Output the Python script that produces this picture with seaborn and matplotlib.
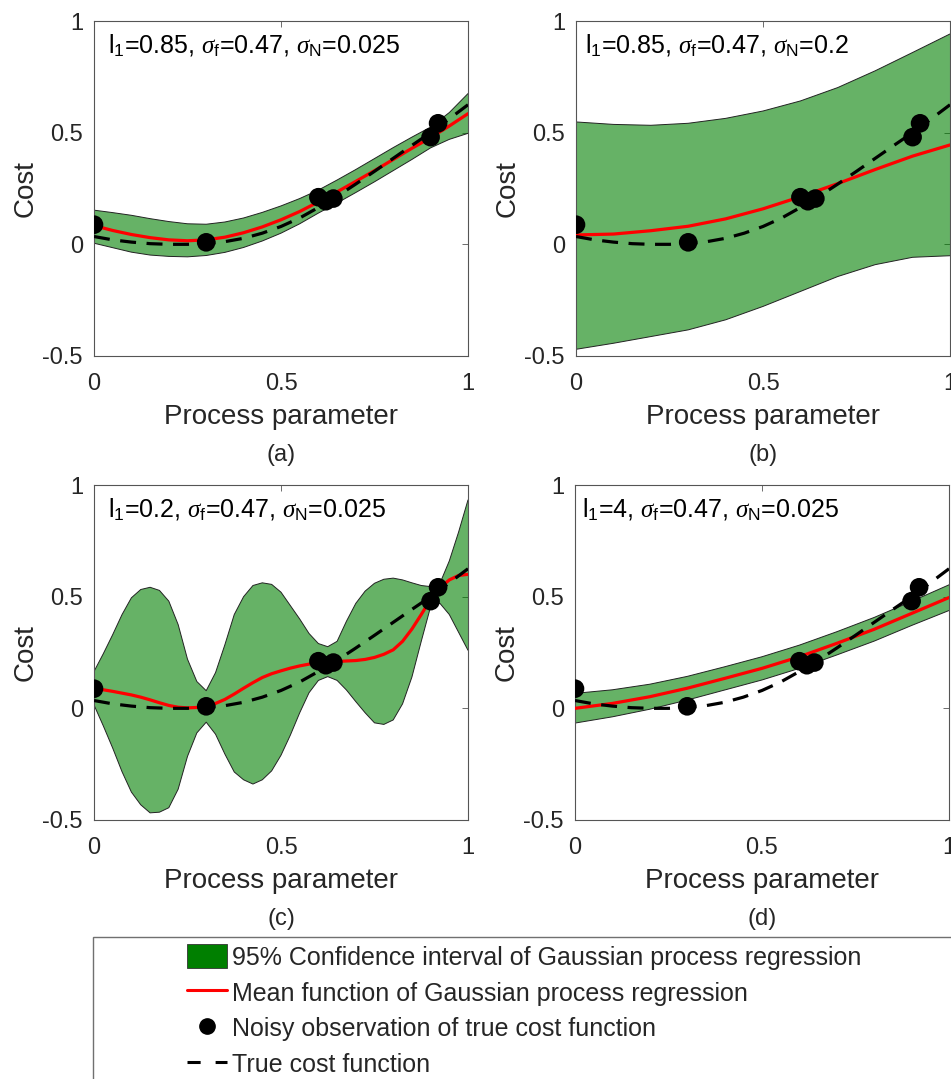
import matplotlib
matplotlib.use("Agg")
import matplotlib.pyplot as plt
import seaborn as sns
from matplotlib.patches import Patch, Rectangle
from matplotlib.lines import Line2D

# noisy observations, same in every panel
obs_x = [0.0, 0.30, 0.60, 0.62, 0.64, 0.90, 0.92]
obs_y = [0.088, 0.009, 0.211, 0.193, 0.205, 0.480, 0.542]

x21 = [0.0, 0.05, 0.1, 0.15, 0.2, 0.25, 0.3, 0.35, 0.4, 0.45, 0.5,
       0.55, 0.6, 0.65, 0.7, 0.75, 0.8, 0.85, 0.9, 0.95, 1.0]
x11 = [0.0, 0.1, 0.2, 0.3, 0.4, 0.5, 0.6, 0.7, 0.8, 0.9, 1.0]
x41 = [0.0, 0.025, 0.05, 0.075, 0.1, 0.125, 0.15, 0.175, 0.2, 0.225, 0.25,
       0.275, 0.3, 0.325, 0.35, 0.375, 0.4, 0.425, 0.45, 0.475, 0.5,
       0.525, 0.55, 0.575, 0.6, 0.625, 0.65, 0.675, 0.7, 0.725, 0.75,
       0.775, 0.8, 0.825, 0.85, 0.875, 0.9, 0.925, 0.95, 0.975, 1.0]

# true cost function (dashed)
true_y = [0.035, 0.020, 0.010, 0.003, 0.000, 0.000, 0.004, 0.012, 0.027, 0.050, 0.080,
          0.118, 0.165, 0.215, 0.270, 0.327, 0.385, 0.443, 0.500, 0.562, 0.625]

# (a) l1=0.85, sf=0.47, sN=0.025
a_mean = [0.084, 0.062, 0.044, 0.030, 0.020, 0.016, 0.020, 0.032, 0.052, 0.078, 0.110,
          0.147, 0.190, 0.235, 0.282, 0.330, 0.380, 0.430, 0.478, 0.530, 0.585]
a_upper = [0.153, 0.142, 0.130, 0.115, 0.102, 0.092, 0.090, 0.100, 0.118, 0.143, 0.172,
           0.205, 0.243, 0.288, 0.335, 0.384, 0.433, 0.480, 0.525, 0.590, 0.675]
a_lower = [0.005, -0.015, -0.035, -0.048, -0.054, -0.056, -0.050, -0.036, -0.014, 0.015, 0.050,
           0.092, 0.140, 0.185, 0.232, 0.280, 0.330, 0.380, 0.432, 0.470, 0.497]

# (b) l1=0.85, sf=0.47, sN=0.2
b_mean = [0.042, 0.046, 0.061, 0.081, 0.114, 0.159, 0.213, 0.272, 0.335, 0.395, 0.445]
b_upper = [0.548, 0.537, 0.533, 0.542, 0.564, 0.597, 0.642, 0.702, 0.777, 0.859, 0.942]
b_lower = [-0.470, -0.443, -0.413, -0.383, -0.338, -0.278, -0.211, -0.144, -0.091, -0.058, -0.051]

# (c) l1=0.2, sf=0.47, sN=0.025
c_mean = [0.090, 0.083, 0.076, 0.068, 0.060, 0.050, 0.038, 0.025, 0.013, 0.005, 0.002,
          0.004, 0.010, 0.022, 0.040, 0.064, 0.090, 0.115, 0.138, 0.155, 0.168,
          0.180, 0.190, 0.198, 0.205, 0.208, 0.210, 0.212, 0.214, 0.219, 0.228,
          0.242, 0.262, 0.300, 0.355, 0.420, 0.488, 0.540, 0.575, 0.595, 0.600]
c_upper = [0.165, 0.245, 0.330, 0.420, 0.495, 0.532, 0.542, 0.528, 0.480, 0.375, 0.220,
           0.120, 0.079, 0.160, 0.285, 0.420, 0.500, 0.550, 0.562, 0.555, 0.520,
           0.460, 0.400, 0.335, 0.290, 0.276, 0.300, 0.390, 0.470, 0.525, 0.560,
           0.578, 0.583, 0.575, 0.562, 0.550, 0.545, 0.560, 0.660, 0.790, 0.933]
c_lower = [0.015, -0.079, -0.178, -0.284, -0.375, -0.432, -0.468, -0.465, -0.445, -0.362, -0.215,
           -0.110, -0.062, -0.116, -0.205, -0.285, -0.320, -0.339, -0.320, -0.280, -0.210,
           -0.120, -0.020, 0.070, 0.125, 0.142, 0.125, 0.082, 0.030, -0.020, -0.065,
           -0.072, -0.052, 0.020, 0.140, 0.300, 0.455, 0.470, 0.420, 0.340, 0.260]

# (d) l1=4, sf=0.47, sN=0.025
d_mean = [0.000, 0.022, 0.052, 0.090, 0.134, 0.179, 0.231, 0.291, 0.354, 0.425, 0.496]
d_upper = [0.067, 0.083, 0.108, 0.143, 0.186, 0.231, 0.283, 0.343, 0.407, 0.479, 0.553]
d_lower = [-0.066, -0.038, -0.004, 0.037, 0.082, 0.127, 0.179, 0.239, 0.301, 0.371, 0.438]

titles = [r"l$_1$=0.85, $\sigma_\mathrm{f}$=0.47, $\sigma_\mathrm{N}$=0.025",
          r"l$_1$=0.85, $\sigma_\mathrm{f}$=0.47, $\sigma_\mathrm{N}$=0.2",
          r"l$_1$=0.2, $\sigma_\mathrm{f}$=0.47, $\sigma_\mathrm{N}$=0.025",
          r"l$_1$=4, $\sigma_\mathrm{f}$=0.47, $\sigma_\mathrm{N}$=0.025"]
letters = ["(a)", "(b)", "(c)", "(d)"]

sns.set_theme(style="white")
plt.rcParams["font.family"] = ["Liberation Sans", "DejaVu Sans"]
plt.rcParams["mathtext.fontset"] = "custom"
plt.rcParams["mathtext.rm"] = "Liberation Sans"
plt.rcParams["mathtext.it"] = "Liberation Serif:italic"
plt.rcParams["mathtext.bf"] = "Liberation Sans:bold"

W, H = 951, 1079
fig = plt.figure(figsize=(W / 100, H / 100), dpi=100)

boxes = [(94, 21), (576, 21), (94, 485), (575, 485)]
aw, ah = 374, 335
panels = [
    (x21, a_mean, x21, a_upper, a_lower),
    (x11, b_mean, x11, b_upper, b_lower),
    (x41, c_mean, x41, c_upper, c_lower),
    (x11, d_mean, x11, d_upper, d_lower),
]
text_x = [0.037, 0.024, 0.037, 0.02]
txt_col = "#262626"
green = "#008000"

for i, (bx, by) in enumerate(boxes):
    ax = fig.add_axes([bx / W, 1 - (by + ah) / H, aw / W, ah / H])
    mx, my, bandx, up, lo = panels[i]
    ax.fill_between(bandx, lo, up, facecolor=green, alpha=0.6, edgecolor="none", zorder=1)
    sns.lineplot(x=bandx, y=up, ax=ax, color="#222222", linewidth=0.7, zorder=2)
    sns.lineplot(x=bandx, y=lo, ax=ax, color="#222222", linewidth=0.7, zorder=2)
    sns.lineplot(x=mx, y=my, ax=ax, color="red", linewidth=2.3, zorder=3)
    sns.lineplot(x=x21, y=true_y, ax=ax, color="black", linewidth=2.3,
                 linestyle=(0, (5, 3.3)), zorder=4)
    sns.scatterplot(x=obs_x, y=obs_y, ax=ax, color="black", s=180,
                    edgecolor="none", zorder=5)
    ax.set_xlim(0, 1)
    ax.set_ylim(-0.5, 1)
    ax.set_xticks([0, 0.5, 1])
    ax.set_xticklabels(["0", "0.5", "1"])
    ax.set_yticks([-0.5, 0, 0.5, 1])
    ax.set_yticklabels(["-0.5", "0", "0.5", "1"])
    ax.tick_params(direction="in", top=True, right=True, length=4, width=0.6,
                   labelsize=17, colors="#555555", labelcolor=txt_col)
    ax.tick_params(axis="x", pad=12)
    ax.tick_params(axis="y", pad=8)
    for sp in ax.spines.values():
        sp.set_color("#555555")
        sp.set_linewidth(0.8)
    ax.set_xlabel("Process parameter", fontsize=20, color=txt_col, labelpad=7)
    ax.set_ylabel("Cost", fontsize=20, color=txt_col, labelpad=3)
    ax.text(text_x[i], 0.965, titles[i], transform=ax.transAxes, fontsize=18,
            color="black", ha="left", va="top")
    ax.text(0.5, -0.297, letters[i], transform=ax.transAxes, fontsize=17,
            color=txt_col, ha="center", va="center")

# legend box
fig.patches.append(Rectangle((93 / W, -0.01), 1.0, (H - 937) / H + 0.01,
                             transform=fig.transFigure, fill=False,
                             edgecolor="#707070", linewidth=1.0))
handles = [
    Patch(facecolor="#007f00", edgecolor="#333333", linewidth=0.6),
    Line2D([], [], color="red", linewidth=2.2),
    Line2D([], [], color="black", marker="o", markersize=11, linestyle="none"),
    Line2D([], [], color="black", linewidth=2.2, linestyle=(0, (4.3, 4.9))),
]
labels = ["95% Confidence interval of Gaussian process regression",
          "Mean function of Gaussian process regression",
          "Noisy observation of true cost function",
          "True cost function"]
fig.legend(handles, labels, loc="upper left", bbox_to_anchor=(187 / W, 1 - 944 / H),
           frameon=False, borderpad=0, borderaxespad=0, handlelength=1.6,
           handleheight=1.12, handletextpad=0.2, labelspacing=0.41,
           prop={"family": "Liberation Sans", "size": 18})
fig.savefig("out.png", dpi=100)
